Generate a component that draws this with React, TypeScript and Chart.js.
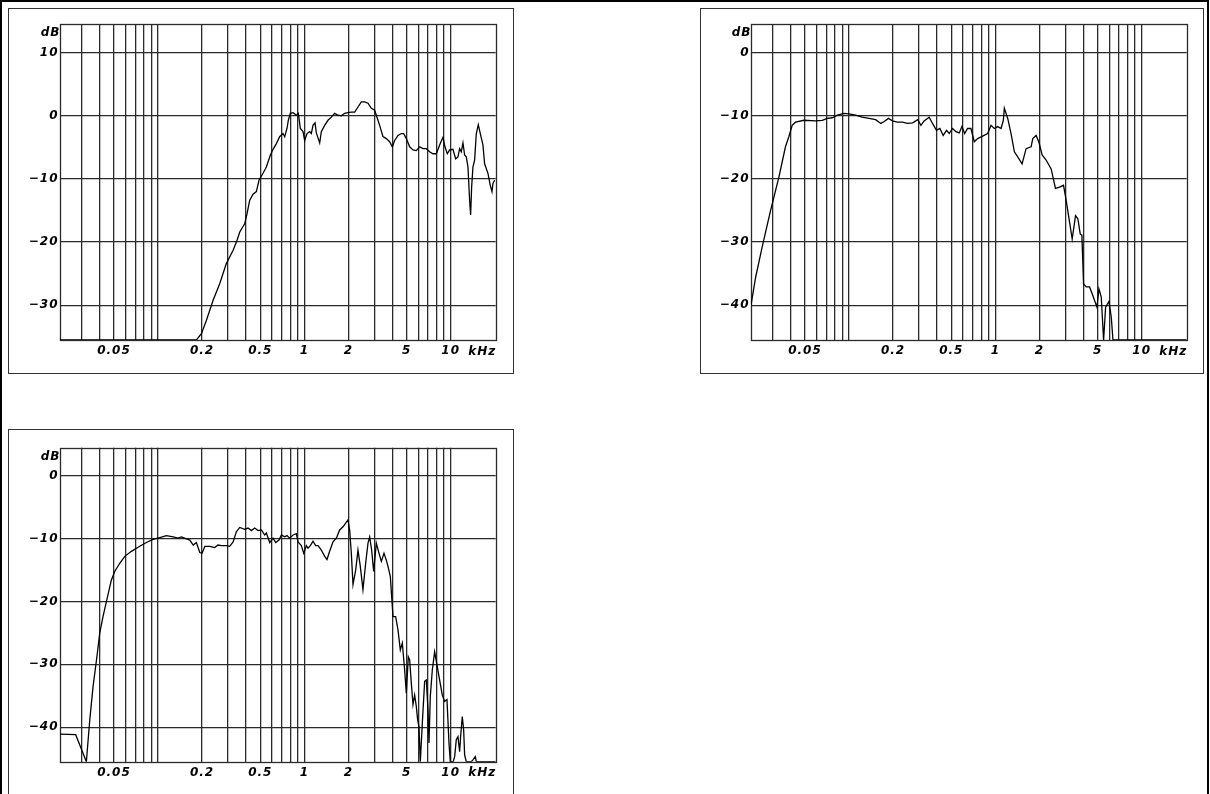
import React, { useEffect, useRef } from "react";
import { Chart, registerables } from "chart.js";

Chart.register(...registerables);

// ---- axis data ----
const F_MIN = 0.0214;
const F_MAX = 20.3;
const xGridValues = [0.03, 0.04, 0.05, 0.06, 0.07, 0.08, 0.09, 0.1, 0.2, 0.3, 0.4, 0.5, 0.6, 0.7, 0.8, 0.9, 1, 2, 3, 4, 5, 6, 7, 8, 9, 10];
const xLabelValues = [0.05, 0.2, 0.5, 1, 2, 5, 10];
const xLabelTexts = ["0.05", "0.2", "0.5", "1", "2", "5", "10"];
const yTicksTop = [-30, -20, -10, 0, 10];
const yTicksLow = [-40, -30, -20, -10, 0];
const unitY = "dB";
const unitX = "kHz";

// ---- chart 1 (kHz, dB) ----
const freq1 = [0.0214, 0.183, 0.198, 0.214, 0.238, 0.264, 0.293, 0.326, 0.347, 0.362, 0.391, 0.406, 0.423, 0.446, 0.47, 0.49, 0.522, 0.55, 0.586, 0.611, 0.644, 0.678, 0.715, 0.734, 0.761, 0.777, 0.802, 0.837, 0.882, 0.91, 0.939, 0.979, 1.005, 1.043, 1.087, 1.116, 1.146, 1.183, 1.208, 1.273, 1.306, 1.377, 1.451, 1.529, 1.611, 1.698, 1.789, 1.886, 1.987, 2.094, 2.207, 2.325, 2.451, 2.583, 2.722, 2.869, 3.023, 3.103, 3.27, 3.446, 3.632, 3.827, 3.991, 4.14, 4.363, 4.598, 4.77, 4.974, 5.243, 5.525, 5.821, 6.135, 6.466, 6.813, 7.18, 7.567, 7.973, 8.403, 8.855, 9.138, 9.48, 9.833, 10.36, 10.81, 11.21, 11.51, 11.81, 12.13, 12.45, 12.78, 13.12, 13.47, 13.68, 13.9, 14.19, 14.57, 14.96, 15.44, 15.93, 16.61, 17.05, 17.97, 18.64, 19.14, 19.45, 19.96];
const db1 = [-35.5, -35.5, -34.5, -32.4, -29.2, -26.6, -23.4, -21.3, -19.7, -18.4, -17.1, -15.5, -13.4, -12.4, -12.0, -10.2, -9.1, -8.1, -6.2, -5.3, -4.4, -3.3, -2.8, -3.3, -2.0, -0.7, 0.4, 0.5, 0.1, 0.4, -2.0, -2.5, -3.9, -2.8, -2.5, -2.8, -1.5, -1.1, -2.7, -4.3, -2.5, -1.5, -0.7, -0.2, 0.4, 0.1, 0.0, 0.4, 0.5, 0.6, 0.6, 1.4, 2.2, 2.2, 2.0, 1.2, 0.9, 0.1, -1.5, -3.3, -3.6, -4.1, -4.9, -3.9, -3.1, -2.8, -2.8, -3.6, -4.9, -5.4, -5.5, -4.9, -5.2, -5.2, -5.7, -6.0, -6.0, -4.6, -3.4, -4.9, -6.0, -5.4, -5.3, -6.8, -6.5, -5.2, -5.7, -4.3, -6.2, -6.5, -8.1, -13.4, -15.7, -11.3, -8.1, -7.0, -2.8, -1.4, -2.8, -4.6, -7.6, -9.1, -11.0, -12.0, -10.7, -10.2];

// ---- chart 2 ----
const freq2 = [0.0214, 0.023, 0.0255, 0.0291, 0.0332, 0.0368, 0.0388, 0.0409, 0.0431, 0.0492, 0.0591, 0.0657, 0.071, 0.0769, 0.0832, 0.0924, 0.1, 0.111, 0.123, 0.137, 0.152, 0.165, 0.174, 0.186, 0.198, 0.214, 0.232, 0.251, 0.272, 0.295, 0.31, 0.326, 0.353, 0.372, 0.396, 0.418, 0.44, 0.464, 0.484, 0.51, 0.538, 0.567, 0.591, 0.617, 0.646, 0.681, 0.718, 0.757, 0.819, 0.886, 0.934, 0.984, 1.038, 1.094, 1.134, 1.152, 1.215, 1.28, 1.349, 1.422, 1.523, 1.622, 1.755, 1.802, 1.899, 1.981, 2.088, 2.223, 2.406, 2.576, 2.744, 2.923, 3.048, 3.212, 3.35, 3.531, 3.663, 3.801, 3.902, 4.006, 4.178, 4.403, 4.642, 4.943, 5.102, 5.293, 5.491, 5.667, 5.974, 6.197, 6.363, 20.3];
const db2 = [-40, -35.6, -30.8, -25.0, -19.7, -14.9, -13.3, -11.5, -11.0, -10.7, -10.8, -10.7, -10.4, -10.3, -9.9, -9.6, -9.7, -9.9, -10.2, -10.4, -10.6, -11.2, -10.9, -10.4, -10.8, -11.0, -11.0, -11.2, -11.1, -10.6, -11.5, -10.8, -10.2, -11.2, -12.3, -12.0, -13.1, -12.3, -12.8, -12.0, -12.5, -12.7, -11.7, -12.8, -12.0, -12.0, -14.1, -13.6, -13.2, -12.8, -11.5, -12.0, -11.7, -12.0, -10.7, -8.8, -10.4, -12.8, -15.7, -16.5, -17.6, -15.2, -14.9, -13.6, -13.1, -14.1, -16.2, -17.0, -18.4, -21.5, -21.3, -21.0, -23.4, -26.8, -29.5, -25.8, -26.3, -28.7, -28.9, -36.6, -37.1, -37.1, -38.5, -40.3, -37.4, -38.7, -45.5, -40.3, -39.4, -41.9, -45.5, -45.5];

// ---- chart 3 ----
const freq3 = [0.0214, 0.0274, 0.0324, 0.0342, 0.036, 0.038, 0.04, 0.0421, 0.0444, 0.048, 0.0506, 0.0548, 0.0593, 0.0658, 0.075, 0.0833, 0.0925, 0.103, 0.114, 0.127, 0.137, 0.1445, 0.152, 0.165, 0.174, 0.183, 0.193, 0.2, 0.209, 0.226, 0.244, 0.257, 0.271, 0.293, 0.309, 0.326, 0.343, 0.362, 0.391, 0.412, 0.435, 0.458, 0.483, 0.509, 0.536, 0.55, 0.58, 0.611, 0.637, 0.671, 0.697, 0.734, 0.761, 0.794, 0.837, 0.882, 0.905, 0.954, 0.99, 1.032, 1.059, 1.099, 1.146, 1.195, 1.24, 1.306, 1.377, 1.428, 1.489, 1.57, 1.654, 1.743, 1.837, 1.916, 1.987, 2.04, 2.094, 2.15, 2.242, 2.325, 2.412, 2.515, 2.624, 2.722, 2.794, 2.884, 2.976, 3.103, 3.236, 3.357, 3.501, 3.632, 3.729, 3.868, 3.95, 4.034, 4.206, 4.363, 4.526, 4.671, 4.845, 4.974, 5.133, 5.243, 5.382, 5.525, 5.67, 5.821, 5.944, 6.07, 6.199, 6.397, 6.637, 6.813, 6.995, 7.106, 7.256, 7.488, 7.768, 8.058, 8.403, 8.763, 9.091, 9.43, 9.732, 9.938, 10.4, 10.64, 10.92, 11.21, 11.51, 11.69, 12.0, 12.26, 12.45, 12.78, 13.83, 14.19, 14.72, 14.96, 20.3];
const db3 = [-41.1, -41.2, -45.5, -38.8, -33.5, -29.3, -25.0, -22.4, -20.0, -16.6, -15.2, -13.9, -12.8, -12.0, -11.2, -10.6, -10.1, -9.8, -9.5, -9.7, -9.9, -9.7, -9.9, -10.2, -11.0, -10.6, -12.2, -12.3, -11.2, -11.2, -11.4, -11.0, -11.1, -11.1, -11.2, -10.5, -8.9, -8.2, -8.5, -8.3, -8.7, -8.3, -8.7, -8.6, -9.4, -9.1, -10.6, -9.9, -10.6, -10.2, -9.4, -9.7, -9.5, -9.9, -9.4, -9.2, -10.5, -11.1, -12.3, -11.1, -11.5, -11.1, -10.4, -11.1, -11.1, -11.8, -12.8, -13.3, -12.0, -10.5, -9.9, -8.6, -8.1, -7.5, -7.0, -8.6, -12.3, -17.3, -15.0, -11.8, -14.4, -18.1, -13.9, -10.7, -9.7, -11.8, -15.2, -10.7, -12.3, -13.6, -12.3, -13.4, -14.4, -16.0, -19.2, -22.4, -22.4, -24.5, -27.7, -26.6, -30.9, -34.6, -28.8, -29.3, -33.0, -36.4, -34.9, -36.7, -38.8, -39.9, -45.5, -39.4, -32.7, -32.5, -37.2, -42.5, -35.1, -30.9, -28.0, -30.1, -32.5, -34.9, -35.9, -35.6, -42.5, -45.5, -45.5, -44.7, -42.0, -41.5, -43.9, -41.5, -38.3, -40.4, -44.4, -45.5, -45.5, -45.2, -44.7, -45.5, -45.5];

const FONT_FAMILY = '"DejaVu Sans", "Noto Sans", sans-serif';
const GRID = "#2a2a2a";
const LETTER_SPACING = "1px";

type PanelProps = {
  freqs: number[];
  dbs: number[];
  yMin: number;
  yMax: number;
  yTicks: number[];
  box: { left: number; top: number; width: number; height: number };
  canvasW: number;
  canvasH: number;
  padTop: number;
  padRight: number;
  padBottom: number;
  yAxisW: number;
};

const decoPlugin = {
  id: "deco",
  beforeDraw(chart: any) {
    (chart.ctx as any).letterSpacing = LETTER_SPACING;
  },
  beforeDatasetsDraw(chart: any) {
    const { ctx, chartArea } = chart;
    ctx.save();
    ctx.strokeStyle = GRID;
    ctx.lineWidth = 1.3;
    const l = Math.round(chartArea.left) + 0.5;
    const t = Math.round(chartArea.top) + 0.5;
    const r = Math.round(chartArea.right) + 0.5;
    const b = Math.round(chartArea.bottom) + 0.5;
    ctx.strokeRect(l, t, r - l, b - t);
    ctx.restore();
  },
  afterDraw(chart: any) {
    const { ctx, chartArea } = chart;
    ctx.save();
    (ctx as any).letterSpacing = LETTER_SPACING;
    ctx.fillStyle = "#000";
    ctx.font = `italic bold 12px ${FONT_FAMILY}`;
    ctx.textAlign = "right";
    ctx.textBaseline = "middle";
    ctx.fillText(unitY, chartArea.left + 0.5, chartArea.top + 9);
    ctx.fillText(unitX, chartArea.right + 0.5, chartArea.bottom + 11.6);
    ctx.restore();
  },
};

function Panel(p: PanelProps) {
  const ref = useRef<HTMLCanvasElement | null>(null);
  useEffect(() => {
    if (!ref.current) return;
    const points = p.freqs.map((f, i) => ({ x: f, y: p.dbs[i] }));
    const tickFont = { family: FONT_FAMILY, size: 12, style: "italic" as const, weight: "bold" as const };
    const chart = new Chart(ref.current, {
      type: "line",
      data: {
        datasets: [
          {
            data: points,
            borderColor: "#000",
            borderWidth: 1.3,
            pointRadius: 0,
            fill: false,
            tension: 0,
          },
        ],
      },
      options: {
        animation: false,
        responsive: false,
        maintainAspectRatio: false,
        devicePixelRatio: 1,
        layout: { padding: { left: 0, top: p.padTop, right: p.padRight, bottom: p.padBottom } },
        plugins: { legend: { display: false }, tooltip: { enabled: false } },
        scales: {
          x: {
            type: "logarithmic",
            min: F_MIN,
            max: F_MAX,
            bounds: "data",
            afterBuildTicks: (s: any) => {
              s.ticks = xGridValues.map((v) => ({ value: v }));
            },
            afterFit: (s: any) => {
              s.height = 26;
            },
            grid: { color: GRID, lineWidth: 1.3, drawTicks: false },
            border: { display: false },
            ticks: {
              autoSkip: false,
              maxRotation: 0,
              padding: 4,
              color: "#000",
              font: tickFont,
              callback: (v: any) => {
                const i = xLabelValues.findIndex((x) => Math.abs(x - Number(v)) / x < 1e-6);
                return i >= 0 ? xLabelTexts[i] : "";
              },
            },
          },
          y: {
            type: "linear",
            min: p.yMin,
            max: p.yMax,
            bounds: "data",
            afterBuildTicks: (s: any) => {
              s.ticks = p.yTicks.map((v) => ({ value: v }));
            },
            afterFit: (s: any) => {
              s.width = p.yAxisW;
            },
            grid: { color: GRID, lineWidth: 1.3, drawTicks: false },
            border: { display: false },
            ticks: {
              padding: 1.5,
              color: "#000",
              font: tickFont,
              callback: (v: any) => {
                const n = Number(v);
                return n < 0 ? "\u2212" + Math.abs(n) : String(n);
              },
            },
          },
        },
      },
      plugins: [decoPlugin],
    });
    return () => chart.destroy();
  }, []);

  return (
    <div
      style={{
        position: "fixed",
        left: p.box.left,
        top: p.box.top,
        width: p.box.width,
        height: p.box.height,
        border: "1px solid #333",
        boxSizing: "border-box",
        background: "#fff",
      }}
    >
      <canvas
        ref={ref}
        width={p.canvasW}
        height={p.canvasH}
        style={{ position: "absolute", left: 0, top: 0, width: p.canvasW, height: p.canvasH, display: "block" }}
      />
    </div>
  );
}

export default function App() {
  return (
    <div>
      <div
        style={{
          position: "fixed",
          left: 0,
          top: 0,
          width: 1209,
          height: 900,
          borderTop: "2px solid #000",
          borderLeft: "2px solid #000",
          borderRight: "2px solid #000",
          boxSizing: "border-box",
          background: "#fff",
        }}
      />
      <Panel
        freqs={freq1}
        dbs={db1}
        yMin={-35.5}
        yMax={14.5}
        yTicks={yTicksTop}
        box={{ left: 8, top: 8, width: 506, height: 366 }}
        canvasW={504}
        canvasH={364}
        padTop={15.3}
        padRight={17.3}
        padBottom={7}
        yAxisW={51}
      />
      <Panel
        freqs={freq2}
        dbs={db2}
        yMin={-45.5}
        yMax={4.5}
        yTicks={yTicksLow}
        box={{ left: 700, top: 8, width: 504, height: 366 }}
        canvasW={502}
        canvasH={364}
        padTop={15.3}
        padRight={16.3}
        padBottom={7}
        yAxisW={50}
      />
      <Panel
        freqs={freq3}
        dbs={db3}
        yMin={-45.5}
        yMax={4.5}
        yTicks={yTicksLow}
        box={{ left: 8, top: 429, width: 506, height: 420 }}
        canvasW={504}
        canvasH={364}
        padTop={17.7}
        padRight={17.3}
        padBottom={6.3}
        yAxisW={51}
      />
    </div>
  );
}
